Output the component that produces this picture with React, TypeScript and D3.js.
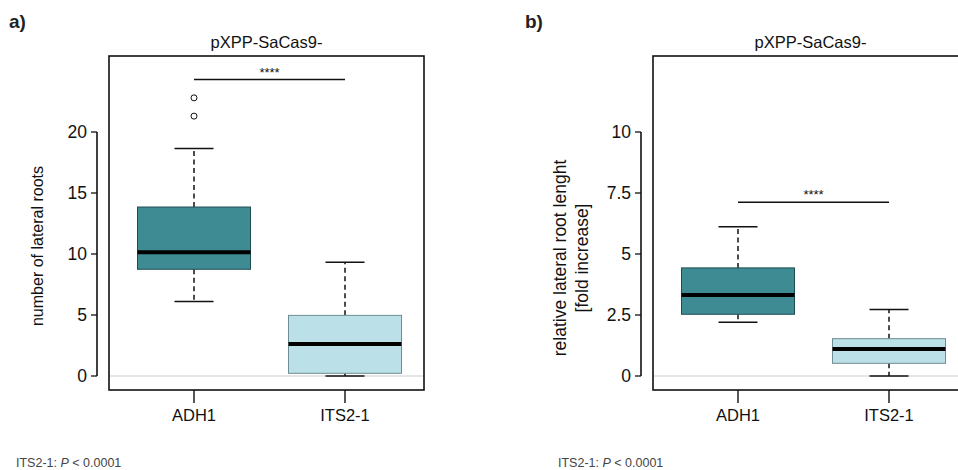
import React from "react";
import * as d3 from "d3";

// groups on the x axis
const groups = ["ADH1", "ITS2-1"];

// box stats: [lower whisker, Q1, median, Q3, upper whisker]
const countADH1 = [6.1, 8.75, 10.15, 13.85, 18.65];
const countITS2 = [0, 0.22, 2.62, 4.97, 9.32];
const countOutliersADH1 = [21.3, 22.8];
const countTicks = [0, 5, 10, 15, 20];
const countSig = 24.3;

const lengthADH1 = [2.2, 2.53, 3.32, 4.43, 6.12];
const lengthITS2 = [0, 0.52, 1.11, 1.53, 2.73];
const lengthTicks = [0, 2.5, 5, 7.5, 10];
const lengthTickLabels = ["0", "2.5", "5", "7.5", "10"];
const lengthSig = 7.12;

const fills = ["#3f8b94", "#bce0e7"];
const strokes = ["#1e4c52", "#6f8d93"];

const font = "'Liberation Sans', Arial, sans-serif";

type PanelProps = {
  x0: number;
  letter: string;
  letterX: number;
  noteX: number;
  stats: number[][];
  outliers: number[][];
  ticks: number[];
  tickLabels: string[];
  yMax: number;
  sig: number;
  ylabel: string[];
  ylabelX: number;
  ylabelY: number;
  ylabelSize: number;
};

function Panel(p: PanelProps) {
  const { x0, letter, letterX, noteX, stats, outliers, ticks, tickLabels, yMax, sig, ylabel, ylabelX, ylabelY, ylabelSize } = p;
  const y = d3.scaleLinear().domain([0, yMax]).range([376, 132]);
  const x = d3.scalePoint<string>().domain(groups).range([194, 345]);
  const frame = { left: 109, right: 424, top: 56, bottom: 390 };
  const boxW = 113;
  const capW = 39;
  return (
    <g transform={`translate(${x0},0)`} fontFamily={font}>
      <text x={letterX} y={28} fontSize={19} fontWeight="bold" fill="#222">
        {letter}
      </text>
      <text x={(frame.left + frame.right) / 2} y={48} fontSize={16.5} textAnchor="middle" fill="#111">
        pXPP-SaCas9-
      </text>
      {/* zero grid line */}
      <line x1={frame.left} x2={frame.right} y1={y(0)} y2={y(0)} stroke="#e6e6e6" strokeWidth={2} />
      {/* frame */}
      <rect
        x={frame.left}
        y={frame.top}
        width={frame.right - frame.left}
        height={frame.bottom - frame.top}
        fill="none"
        stroke="#111"
        strokeWidth={1.6}
      />
      {/* y axis */}
      <line x1={97} x2={97} y1={y(ticks[ticks.length - 1])} y2={y(0)} stroke="#111" strokeWidth={1.6} />
      {ticks.map((t, i) => (
        <g key={t}>
          <line x1={91} x2={97} y1={y(t)} y2={y(t)} stroke="#111" strokeWidth={1.3} />
          <text x={87} y={y(t)} dy="0.36em" fontSize={17.5} textAnchor="end" fill="#111">
            {tickLabels[i]}
          </text>
        </g>
      ))}
      <text
        transform={`translate(${ylabelX},${ylabelY}) rotate(-90)`}
        fontSize={ylabelSize}
        textAnchor="middle"
        fill="#111"
      >
        {ylabel.map((l, i) => (
          <tspan key={i} x={0} dy={i === 0 ? 0 : ylabelSize * 1.25}>
            {l}
          </tspan>
        ))}
      </text>
      {/* x axis ticks */}
      {groups.map((g) => (
        <g key={g}>
          <line x1={x(g)} x2={x(g)} y1={frame.bottom} y2={frame.bottom + 13} stroke="#111" strokeWidth={1.4} />
          <text x={x(g)} y={421} fontSize={16.5} textAnchor="middle" fill="#111">
            {g}
          </text>
        </g>
      ))}
      {/* boxes */}
      {groups.map((g, i) => {
        const [lo, q1, med, q3, hi] = stats[i];
        const cx = x(g) as number;
        return (
          <g key={g}>
            <line x1={cx} x2={cx} y1={y(q3)} y2={y(hi)} stroke="#111" strokeWidth={1.5} strokeDasharray="5,3.5" />
            <line x1={cx} x2={cx} y1={y(q1)} y2={y(lo)} stroke="#111" strokeWidth={1.5} strokeDasharray="5,3.5" />
            <line x1={cx - capW / 2} x2={cx + capW / 2} y1={y(hi)} y2={y(hi)} stroke="#111" strokeWidth={1.5} />
            <line x1={cx - capW / 2} x2={cx + capW / 2} y1={y(lo)} y2={y(lo)} stroke="#111" strokeWidth={1.5} />
            <rect
              x={cx - boxW / 2}
              y={y(q3)}
              width={boxW}
              height={y(q1) - y(q3)}
              fill={fills[i]}
              stroke={strokes[i]}
              strokeWidth={1}
            />
            <line x1={cx - boxW / 2} x2={cx + boxW / 2} y1={y(med)} y2={y(med)} stroke="#000" strokeWidth={4} />
            {outliers[i].map((o, k) => (
              <circle key={k} cx={cx} cy={y(o)} r={3} fill="none" stroke="#111" strokeWidth={1} />
            ))}
          </g>
        );
      })}
      {/* significance */}
      <line x1={x(groups[0])} x2={x(groups[1])} y1={y(sig)} y2={y(sig)} stroke="#111" strokeWidth={1.4} />
      <text
        x={((x(groups[0]) as number) + (x(groups[1]) as number)) / 2}
        y={y(sig) - 3}
        fontSize={13}
        textAnchor="middle"
        fill="#111"
      >
        ****
      </text>
      <text x={noteX} y={467} fontSize={12.5} fill="#444">
        ITS2-1: <tspan fontStyle="italic">P</tspan> {"< 0.0001"}
      </text>
    </g>
  );
}

export default function App() {
  return (
    <svg
      width={958}
      height={470}
      style={{ position: "absolute", left: 0, top: 0, background: "#fff" }}
    >
      <Panel
        x0={0}
        letter="a)"
        letterX={9}
        noteX={16}
        stats={[countADH1, countITS2]}
        outliers={[countOutliersADH1, []]}
        ticks={countTicks}
        tickLabels={countTicks.map(String)}
        yMax={20}
        sig={countSig}
        ylabel={["number of lateral roots"]}
        ylabelX={43}
        ylabelY={246}
        ylabelSize={16}
      />
      <Panel
        x0={544}
        letter="b)"
        letterX={-19}
        noteX={14}
        stats={[lengthADH1, lengthITS2]}
        outliers={[[], []]}
        ticks={lengthTicks}
        tickLabels={lengthTickLabels}
        yMax={10}
        sig={lengthSig}
        ylabel={["relative lateral root lenght", "[fold increase]"]}
        ylabelX={22}
        ylabelY={258}
        ylabelSize={17.5}
      />
    </svg>
  );
}
